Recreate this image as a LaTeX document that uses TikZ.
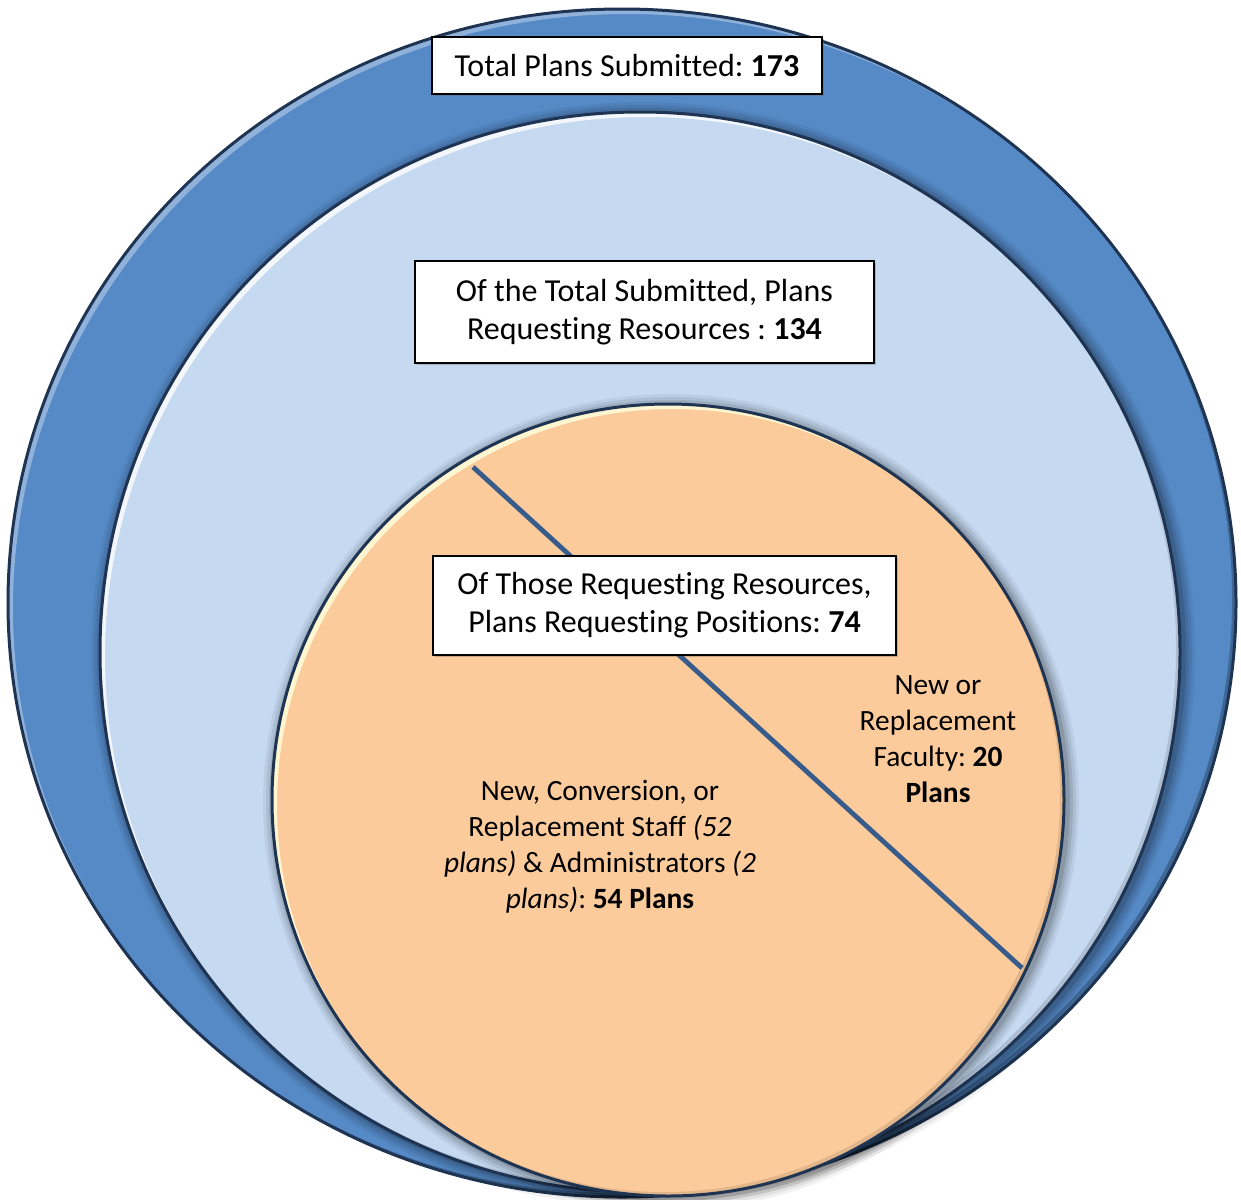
\documentclass[tikz,border=0pt]{standalone}
\usepackage{fontspec}
\setmainfont[Ligatures={NoCommon}]{Carlito}
\usetikzlibrary{shadows}
\definecolor{outerblue}{RGB}{85,138,199}
\definecolor{lightblue}{RGB}{197,217,241}
\definecolor{peach}{RGB}{252,203,155}
\definecolor{edgecol}{RGB}{30,52,82}
\definecolor{lineblue}{RGB}{55,92,140}
\definecolor{cream}{RGB}{255,250,215}
\tikzset{
  infobox/.style={draw=black, line width=0.8pt, fill=white, inner sep=0pt,
    align=center, font=\fontsize{16}{19}\selectfont,
    drop shadow={shadow xshift=1.2pt, shadow yshift=-1.2pt, opacity=0.35, fill=black!60}},
  label/.style={align=center, inner sep=0pt, font=\fontsize{14.7}{18}\selectfont},
  edgeline/.style={draw=edgecol, line width=1.5pt},
  divider/.style={draw=lineblue, line width=2.4pt}
}
\frenchspacing
\begin{document}
\frenchspacing
\begin{tikzpicture}[x=0.5pt,y=-0.5pt]
\useasboundingbox (0,0) rectangle (1241,1199);
% ---------- outer ellipse ----------
\def\OE{(622,603) ellipse[x radius=307pt,y radius=297pt]}
\fill[outerblue] \OE;
\begin{scope}
  \clip \OE;
  \fill[white,opacity=0.35,even odd rule] \OE (627,608) ellipse[x radius=307pt,y radius=297pt];
  \fill[black,opacity=0.25,even odd rule] \OE (618,599) ellipse[x radius=307pt,y radius=297pt];
\end{scope}
\draw[edgeline] \OE;
% ---------- middle circle ----------
\def\MC{(640,652) circle[radius=270pt]}
\foreach \d/\o in {12/0.05,9/0.07,6/0.09,3/0.12}{
  \fill[black,opacity=\o] (643,654) circle[radius=270pt+\d*0.5pt];
}
\fill[lightblue] \MC;
\begin{scope}
  \clip \MC;
  \fill[white,opacity=0.8,even odd rule] \MC (645,657) circle[radius=270pt];
  \fill[black,opacity=0.12,even odd rule] \MC (636,648) circle[radius=270pt];
\end{scope}
\draw[edgeline] \MC;
% ---------- inner circle ----------
\def\IC{(668,800) circle[radius=198pt]}
\foreach \d/\o in {12/0.05,9/0.07,6/0.09,3/0.12}{
  \fill[black,opacity=\o] (671,802) circle[radius=198pt+\d*0.5pt];
}
\fill[peach] \IC;
\begin{scope}
  \clip \IC;
  \fill[cream,opacity=0.9,even odd rule] \IC (673,805) circle[radius=198pt];
  \fill[black,opacity=0.10,even odd rule] \IC (664,796) circle[radius=198pt];
\end{scope}
\draw[edgeline] \IC;
% ---------- divider ----------
\coordinate (divA) at (473,467);
\coordinate (divB) at (1022,968);
\draw[divider] (divA) -- (divB);
% ---------- boxes ----------
\node[infobox, minimum width=195pt, minimum height=28.5pt] (total) at (627,65.5)
  {Total Plans Submitted: \textbf{173}};
\node[infobox, minimum width=229.5pt, minimum height=51pt] (resources) at (644.5,312)
  {Of the Total Submitted, Plans\\Requesting Resources : \textbf{134}};
\node[infobox, minimum width=231.5pt, minimum height=49.5pt] (positions) at (664.5,605.5)
  {Of Those Requesting Resources,\\Plans Requesting Positions: \textbf{74}};
% ---------- labels ----------
\node[label] (faculty) at (938,739)
  {New or\\Replacement\\Faculty: \textbf{20}\\\textbf{Plans}};
\node[label] (staff) at (600,847)
  {New, Conversion, or\\Replacement Staff \textit{(52}\\\textit{plans)} \& Administrators \textit{(2}\\\textit{plans)}: \textbf{54 Plans}};
\end{tikzpicture}
\end{document}
